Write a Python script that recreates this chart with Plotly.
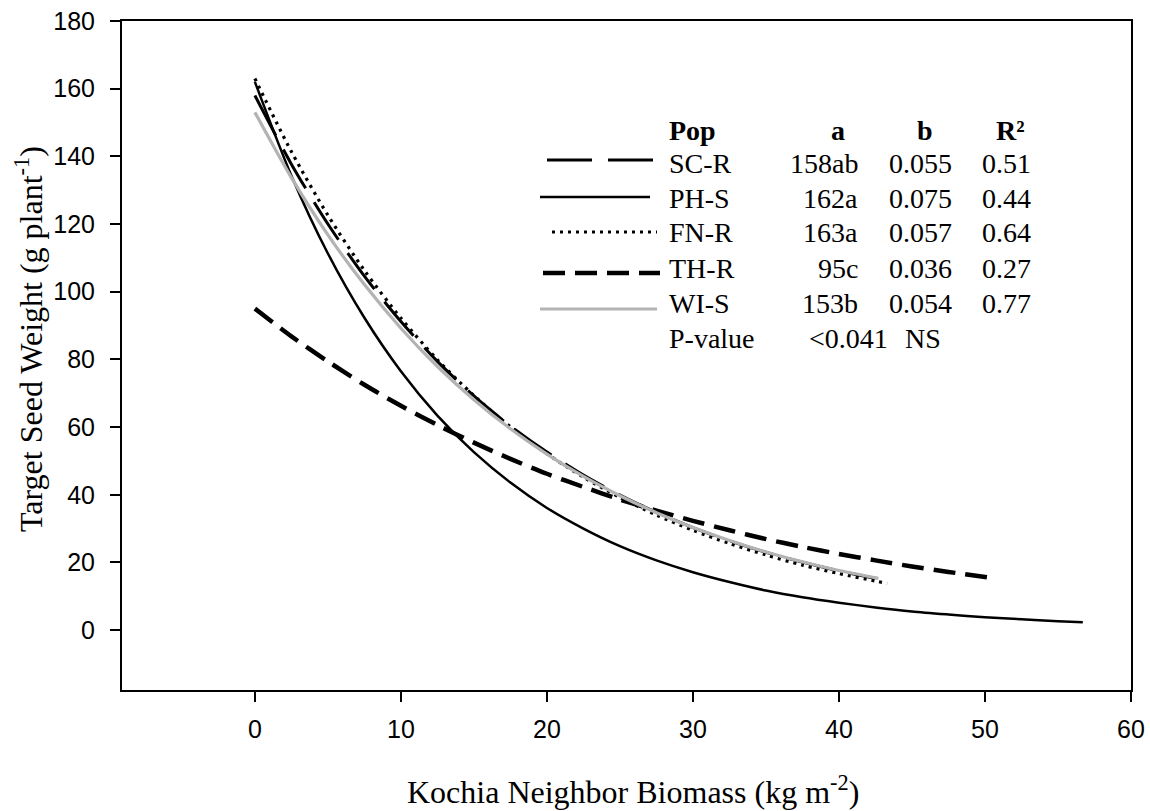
import plotly.graph_objects as go

# ---------------- data ----------------
sc_x = [0, 2.5, 5, 7.5, 10, 12.5, 15, 17.5, 20, 22.5, 25, 27.5, 30, 32.5, 35, 37.5, 40, 42.5]
sc_y = [158, 137.7, 120.0, 104.6, 91.2, 79.4, 69.2, 60.3, 52.6, 45.8, 39.9, 34.8, 30.3, 26.4, 23.0, 20.1, 17.5, 15.3]

ph_x = [0, 2.5, 5, 7.5, 10, 12.5, 15, 17.5, 20, 22.5, 25, 27.5, 30, 32.5, 35, 37.5, 40, 42.5,
        45, 47.5, 50, 52.5, 55, 56.7]
ph_y = [162, 134.3, 111.3, 92.3, 76.5, 63.4, 52.6, 43.6, 36.1, 30.0, 24.8, 20.6, 17.1, 14.2, 11.7,
        9.7, 8.1, 6.7, 5.5, 4.6, 3.8, 3.2, 2.6, 2.3]

fn_x = [0, 2.5, 5, 7.5, 10, 12.5, 15, 17.5, 20, 22.5, 25, 27.5, 30, 32.5, 35, 37.5, 40, 42.5, 43.3]
fn_y = [163, 141.4, 122.6, 106.3, 92.2, 79.9, 69.3, 60.1, 52.1, 45.2, 39.2, 34.0, 29.5, 25.6, 22.2,
        19.2, 16.7, 14.5, 13.8]

th_x = [0, 2.5, 5, 7.5, 10, 12.5, 15, 17.5, 20, 22.5, 25, 27.5, 30, 32.5, 35, 37.5, 40, 42.5,
        45, 47.5, 50.3]
th_y = [95, 86.8, 79.4, 72.5, 66.3, 60.6, 55.4, 50.6, 46.2, 42.3, 38.6, 35.3, 32.3, 29.5, 26.9,
        24.6, 22.5, 20.6, 18.8, 17.2, 15.5]

wi_x = [0, 2.5, 5, 7.5, 10, 12.5, 15, 17.5, 20, 22.5, 25, 27.5, 30, 32.5, 35, 37.5, 40, 42.7]
wi_y = [153, 133.7, 116.8, 102.1, 89.2, 77.9, 68.1, 59.5, 52.0, 45.4, 39.7, 34.7, 30.3, 26.5, 23.1,
        20.2, 17.6, 15.3]

pops = ["SC-R", "PH-S", "FN-R", "TH-R", "WI-S"]
a_vals = ["158ab", "162a", "163a", "95c", "153b"]
b_vals = ["0.055", "0.075", "0.057", "0.036", "0.054"]
r2_vals = ["0.51", "0.44", "0.64", "0.27", "0.77"]
p_row = ["P-value", "<0.041", "NS"]

x_ticks = [0, 10, 20, 30, 40, 50, 60]
y_ticks = [0, 20, 40, 60, 80, 100, 120, 140, 160, 180]

x_title = "Kochia Neighbor Biomass (kg m<sup>-2</sup>)"
y_title = "Target Seed Weight (g plant<sup>-1</sup>)"

# ---------------- styles ----------------
styles = [
    dict(color="black", width=3, dash="45px,16px"),   # SC-R long dash
    dict(color="black", width=2.5, dash="solid"),     # PH-S solid
    dict(color="black", width=3.2, dash="3px,5px"),   # FN-R dotted
    dict(color="black", width=4.5, dash="22px,10px"), # TH-R dashed
    dict(color="#b3b3b3", width=3.2, dash="solid"),   # WI-S grey
]
series = [(sc_x, sc_y), (ph_x, ph_y), (fn_x, fn_y), (th_x, th_y), (wi_x, wi_y)]

fig = go.Figure()
for (xs, ys), name, st in zip(series, pops, styles):
    fig.add_trace(go.Scatter(x=xs, y=ys, mode="lines", name=name,
                             line=dict(shape="spline", smoothing=0.8, **st),
                             showlegend=False))

W, H = 1150, 811
L, R, T, B = 122, 19, 21, 121
pw, ph = W - L - R, H - T - B


def px(xp):
    return (xp - L) / pw


def py(yp):
    return (H - B - yp) / ph


serif = "Liberation Serif, Times New Roman, serif"
sans = "Liberation Sans, Arial, sans-serif"
FS = 28

ann = []
shapes = []
# header
ann.append(dict(text="<b>Pop</b>", x=px(667), y=py(130), xanchor="left"))
ann.append(dict(text="<b>a</b>", x=px(838), y=py(130), xanchor="center"))
ann.append(dict(text="<b>b</b>", x=px(925), y=py(130), xanchor="center"))
ann.append(dict(text="<b>R²</b>", x=px(1010), y=py(130), xanchor="center"))

row_y = [163, 198, 233, 268, 303]
sample_y = [160, 197, 232, 273, 309]
sample_x = [(547, 657), (540, 650), (552, 657), (543, 660), (540, 657)]
for i in range(5):
    yy = row_y[i]
    ann.append(dict(text=pops[i], x=px(667), y=py(yy), xanchor="left"))
    ann.append(dict(text=a_vals[i], x=px(860), y=py(yy), xanchor="right"))
    ann.append(dict(text=b_vals[i], x=px(920), y=py(yy), xanchor="center"))
    ann.append(dict(text=r2_vals[i], x=px(1006), y=py(yy), xanchor="center"))
    x0, x1 = sample_x[i]
    shapes.append(dict(type="line", xref="paper", yref="paper",
                       x0=px(x0), x1=px(x1), y0=py(sample_y[i]), y1=py(sample_y[i]),
                       line=dict(styles[i])))

ann.append(dict(text=p_row[0], x=px(667), y=py(338), xanchor="left"))
ann.append(dict(text=p_row[1], x=px(807), y=py(338), xanchor="left"))
ann.append(dict(text=p_row[2], x=px(903), y=py(338), xanchor="left"))

for a in ann:
    a.update(xref="paper", yref="paper", yanchor="middle", showarrow=False,
             font=dict(family=serif, size=FS, color="black"))

# axis titles
ann.append(dict(text=x_title, x=px(633), y=py(790), xref="paper", yref="paper",
                xanchor="center", yanchor="middle", showarrow=False,
                font=dict(family=serif, size=32, color="black")))
ann.append(dict(text=y_title, x=px(29), y=py(339), xref="paper", yref="paper",
                xanchor="center", yanchor="middle", showarrow=False, textangle=-90,
                font=dict(family=serif, size=32, color="black")))

fig.update_layout(
    width=W, height=H,
    margin=dict(l=L, r=R, t=T, b=B, pad=0),
    paper_bgcolor="white", plot_bgcolor="white",
    annotations=ann, shapes=shapes,
    xaxis=dict(range=[-9.1, 60], tickvals=x_ticks, ticks="outside", ticklen=10, tickwidth=2,
               tickcolor="black", showline=True, linecolor="black", linewidth=2, mirror=True,
               showgrid=False, zeroline=False, ticklabelstandoff=6, automargin=False,
               tickfont=dict(family=sans, size=25, color="black")),
    yaxis=dict(range=[-17.7, 180], tickvals=y_ticks, ticks="outside", ticklen=10, tickwidth=2,
               tickcolor="black", showline=True, linecolor="black", linewidth=2, mirror=True,
               showgrid=False, zeroline=False, ticklabelstandoff=10, automargin=False,
               tickfont=dict(family=sans, size=25, color="black")),
)

fig.write_html("out.html", config={"displayModeBar": False},
               post_script="document.body.style.margin='0';document.body.style.overflow='hidden';")
